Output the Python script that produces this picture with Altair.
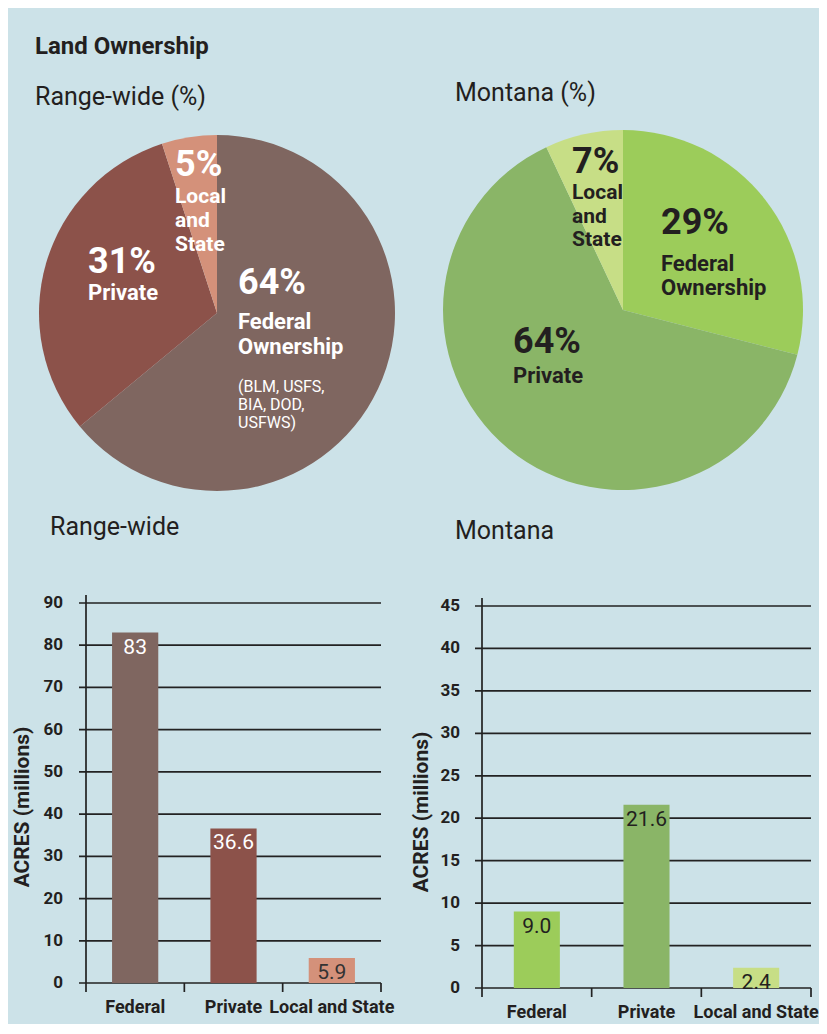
import altair as alt
import pandas as pd

BG = "#CCE2E8"
FONT = "Roboto"
DARK = "#231F20"
LINE = "#222222"

categories = ["Federal", "Private", "Local and State"]
range_pct = [64, 31, 5]
montana_pct = [29, 64, 7]
range_acres = [83, 36.6, 5.9]
montana_acres = [9.0, 21.6, 2.4]
range_acre_labels = ["83", "36.6", "5.9"]
montana_acre_labels = ["9.0", "21.6", "2.4"]
range_ticks = [0, 10, 20, 30, 40, 50, 60, 70, 80, 90]
montana_ticks = [0, 5, 10, 15, 20, 25, 30, 35, 40, 45]

range_colors = ["#7F6660", "#8C524A", "#D4917A"]
montana_colors = ["#9CCC5A", "#8AB567", "#C7DE86"]
range_label_colors = ["white", "white", "#333333"]
montana_label_colors = [DARK, DARK, DARK]

M = 8  # page margin: layout below is given in page pixels
one = pd.DataFrame({"k": [0]})


def txt(px, py, text, size, weight="bold", color=DARK, align="left", angle=0):
    return alt.Chart(one).mark_text(
        text=text, align=align, baseline="middle", font=FONT,
        fontSize=size, fontWeight=weight, color=color, angle=angle,
    ).encode(x=alt.value(px - M), y=alt.value(py - M))


def lines(px, centers, texts, size, weight, color):
    return [txt(px, cy, t, size, weight, color) for cy, t in zip(centers, texts)]


def pie(pcts, colors, cx, cy, r):
    df = pd.DataFrame({"cat": categories, "pct": pcts, "ord": [0, 1, 2]})
    return alt.Chart(df).mark_arc(outerRadius=r).encode(
        theta=alt.Theta("pct:Q", stack=True),
        color=alt.Color("cat:N", scale=alt.Scale(domain=categories, range=colors), legend=None),
        order=alt.Order("ord:Q"),
        x=alt.value(cx - M), y=alt.value(cy - M),
    )


def bars(vals, labels, colors, label_colors, ticks, x0, x1, y0, y1, band, tick_right, title_x, title_y):
    df = pd.DataFrame({"cat": categories, "val": vals, "lab": labels, "lc": label_colors, "zero": 0})
    tdf = pd.DataFrame({"v": ticks})
    xs = alt.Scale(domain=categories, range=[x0 - M, x1 - M], paddingInner=0, paddingOuter=0)
    ys = alt.Scale(domain=[ticks[0], ticks[-1]], range=[y0 - M, y1 - M], nice=False, zero=True)

    def X(**kw):
        return alt.X("cat:N", sort=categories, scale=xs, axis=None, **kw)

    def Y(f="val:Q"):
        return alt.Y(f, scale=ys, axis=None)

    grid = alt.Chart(tdf).mark_rule(color=LINE, strokeWidth=1.7).encode(
        y=Y("v:Q"), x=alt.value(x0 - 7 - M), x2=alt.value(x1 - M),
    )
    ticklab = alt.Chart(tdf).mark_text(
        align="right", baseline="middle", font=FONT, fontSize=17, fontWeight="bold", color=DARK,
    ).encode(y=Y("v:Q"), x=alt.value(tick_right - M), text="v:Q")
    bar = alt.Chart(df).mark_bar(width=alt.RelativeBandSize(band)).encode(
        x=X(), y=Y(),
        color=alt.Color("cat:N", scale=alt.Scale(domain=categories, range=colors), legend=None),
    )
    vlab = alt.Chart(df).mark_text(baseline="middle", dy=15, font=FONT, fontSize=21).encode(
        x=X(), y=Y(), text="lab:N", color=alt.Color("lc:N", scale=None),
    )
    yaxis = alt.Chart(df.iloc[:1]).mark_rule(color=LINE, strokeWidth=1.7, yOffset=-8, y2Offset=9).encode(
        x=X(bandPosition=0), y=alt.Y("v2:Q", scale=ys, axis=None), y2=alt.Y2("zero:Q"),
    ).transform_calculate(v2=str(ticks[-1]))
    xticks = alt.Chart(df.iloc[1:]).mark_rule(color=LINE, strokeWidth=1.7, y2Offset=9).encode(
        x=X(bandPosition=0), y=Y("zero:Q"), y2=alt.Y2("zero:Q"),
    )
    xend = alt.Chart(df.iloc[2:]).mark_rule(color=LINE, strokeWidth=1.7, y2Offset=9).encode(
        x=X(bandPosition=1), y=Y("zero:Q"), y2=alt.Y2("zero:Q"),
    )
    xlab = alt.Chart(df).mark_text(
        baseline="middle", dy=25, font=FONT, fontSize=18, fontWeight="bold", color=DARK,
    ).encode(x=X(), y=Y("zero:Q"), text="cat:N")
    title = txt(title_x, title_y, "ACRES (millions)", 21, "bold", DARK, "center", 270)
    return [grid, ticklab, bar, vlab, yaxis, xticks, xend, xlab, title]


W = "white"
layers = [
    pie(range_pct, range_colors, 217, 313, 178),
    pie(montana_pct, montana_colors, 623, 310, 180),
    txt(35, 47, "Land Ownership", 24, "bold", DARK),
    txt(35, 97, "Range-wide (%)", 25, "normal", DARK),
    txt(455, 93, "Montana (%)", 25, "normal", DARK),
    # range-wide pie labels
    txt(175, 165, f"{range_pct[2]}%", 36, "bold", W),
    *lines(175, [197, 221, 245], ["Local", "and", "State"], 21, "bold", W),
    txt(88, 262, f"{range_pct[1]}%", 36, "bold", W),
    txt(88, 293, "Private", 22, "bold", W),
    txt(238, 283, f"{range_pct[0]}%", 36, "bold", W),
    *lines(238, [322, 347], ["Federal", "Ownership"], 22, "bold", W),
    *lines(238, [387, 405, 423], ["(BLM, USFS,", "BIA, DOD,", "USFWS)"], 16, "normal", W),
    # montana pie labels
    txt(572, 162, f"{montana_pct[2]}%", 36, "bold", DARK),
    *lines(572, [193, 217, 240], ["Local", "and", "State"], 21, "bold", DARK),
    txt(661, 223, f"{montana_pct[0]}%", 36, "bold", DARK),
    *lines(661, [264, 288], ["Federal", "Ownership"], 22, "bold", DARK),
    txt(513, 342, f"{montana_pct[1]}%", 36, "bold", DARK),
    txt(513, 376, "Private", 22, "bold", DARK),
    # bar chart headings
    txt(50, 527, "Range-wide", 25, "normal", DARK),
    txt(455, 531, "Montana", 25, "normal", DARK),
    *bars(range_acres, range_acre_labels, range_colors, range_label_colors, range_ticks,
          86, 381, 983, 603, 0.47, 63, 23, 807),
    *bars(montana_acres, montana_acre_labels, montana_colors, montana_label_colors, montana_ticks,
          482, 811, 988, 606, 0.42, 460, 422, 812),
]

chart = alt.layer(*layers).resolve_scale(
    x="independent", y="independent", color="independent", theta="independent",
).properties(
    width=811, height=1016, background=BG, padding=0,
    autosize=alt.AutoSizeParams(type="none"),
).configure_view(stroke=None)

chart.save("out.html", embed_options={"renderer": "svg", "actions": False})
